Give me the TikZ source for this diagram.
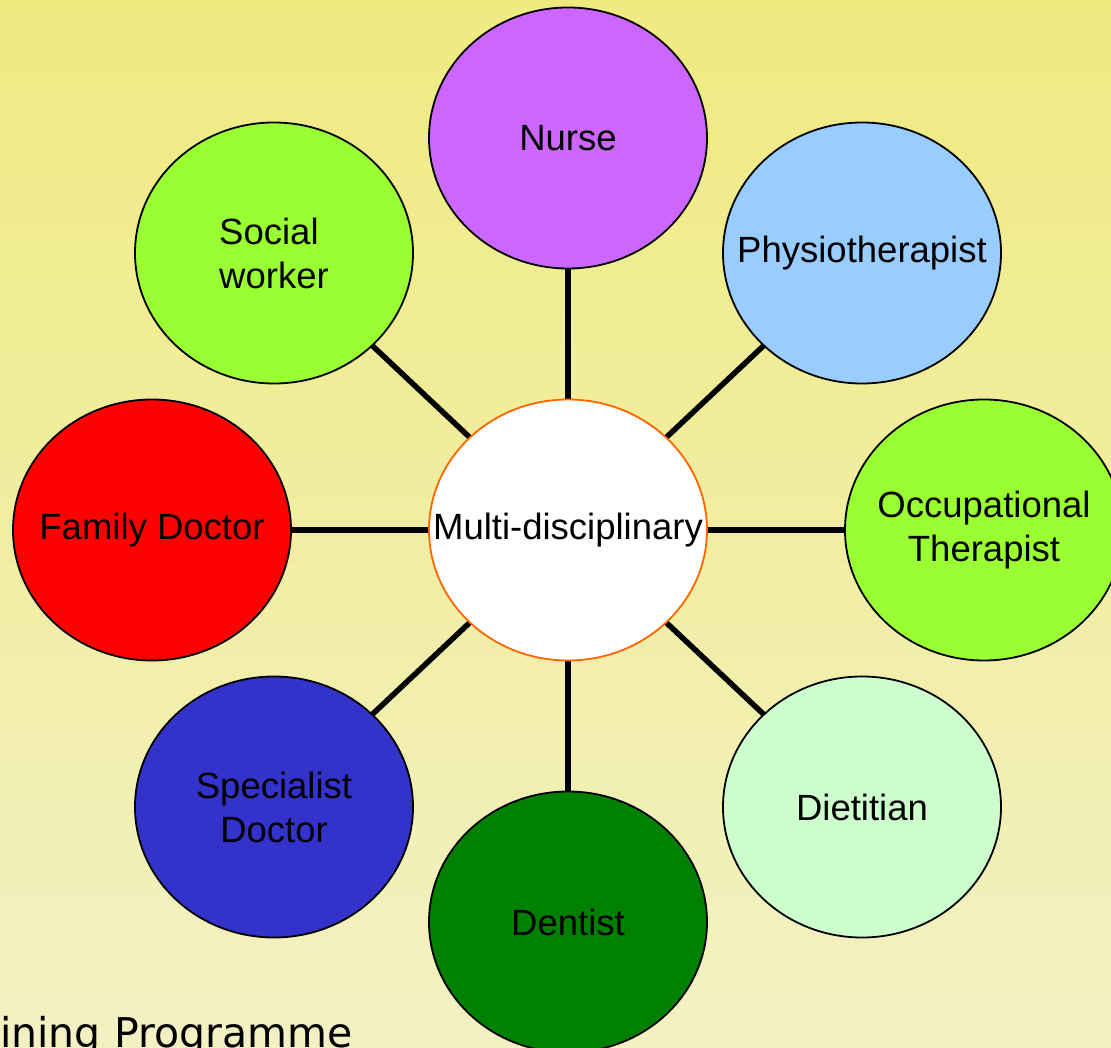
\documentclass[tikz,border=0pt]{standalone}
\usepackage{fontspec}
\setmainfont{Liberation Sans}
\newfontfamily\progfont{DejaVu Sans}
\usetikzlibrary{shapes.geometric}
\pgfdeclarelayer{bg}
\pgfdeclarelayer{edges}
\pgfsetlayers{bg,edges,main}
\definecolor{bgtop}{RGB}{239,234,128}
\definecolor{bgbot}{RGB}{243,241,196}
\definecolor{nursec}{RGB}{204,102,255}
\definecolor{limec}{RGB}{153,255,51}
\definecolor{skyc}{RGB}{153,204,255}
\definecolor{redc}{RGB}{255,0,0}
\definecolor{bluec}{RGB}{51,51,204}
\definecolor{mintc}{RGB}{204,255,204}
\definecolor{greenc}{RGB}{0,128,0}
\definecolor{orangec}{RGB}{255,102,0}
\tikzset{
  role/.style={ellipse, draw=black, line width=1.8pt, minimum width=278pt, minimum height=261pt, inner sep=0pt},
  rolelabel/.style={inner sep=0pt, align=center, font=\fontsize{36.5}{44}\selectfont},
  hub/.style={role, draw=orangec, fill=white},
  link/.style={line width=5.5pt, black}
}
\begin{document}
\begin{tikzpicture}[x=1pt,y=-1pt]
\begin{pgfonlayer}{bg}
\shade[top color=bgtop, bottom color=bgbot] (0,0) rectangle (1111,1048);
\end{pgfonlayer}
\useasboundingbox (0,0) rectangle (1111,1048);
\node[hub, label={[rolelabel]center:Multi-disciplinary}] (m) at (568,530) {};
\node[role, fill=nursec, label={[rolelabel]center:Nurse}] (nurse) at (568,138) {};
\node[role, fill=limec, label={[rolelabel, align=left]center:Social\\worker}] (social) at (274,253) {};
\node[role, fill=skyc, label={[rolelabel]center:Physiotherapist}] (physio) at (862,253) {};
\node[role, fill=redc, label={[rolelabel]center:Family Doctor}] (family) at (152,530) {};
\node[role, fill=limec, label={[rolelabel]center:Occupational\\Therapist}] (occ) at (984,530) {};
\node[role, fill=bluec, label={[rolelabel]center:Specialist\\Doctor}] (spec) at (274,807) {};
\node[role, fill=mintc, label={[rolelabel]center:Dietitian}] (diet) at (862,807) {};
\node[role, fill=greenc, label={[rolelabel]center:Dentist}] (dent) at (568,922) {};
\begin{pgfonlayer}{edges}
\foreach \n in {nurse,social,physio,family,occ,spec,diet,dent}
  \draw[link] (m.center) -- (\n.center);
\end{pgfonlayer}
\node[anchor=base west, inner sep=0pt, font=\progfont\fontsize{41}{46}\selectfont] (prog) at (0,1047) {ining Programme};
\end{tikzpicture}
\end{document}
